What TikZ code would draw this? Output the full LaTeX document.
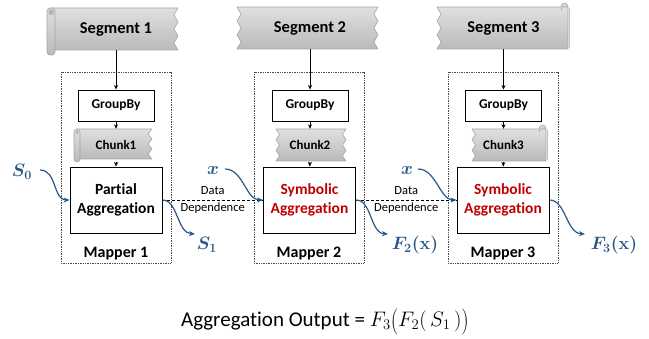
\RequirePackage{fix-cm}
\documentclass[tikz,border=0pt]{standalone}
\usepackage{graphicx}
\usepackage{fontspec}
\setmainfont{Carlito}[Ligatures={CommonOff,ContextualOff}]
\usetikzlibrary{arrows.meta}
\definecolor{lblue}{HTML}{2A5788}
\definecolor{dred}{HTML}{C00000}
\definecolor{bnTop}{RGB}{224,224,224}
\definecolor{bnBot}{RGB}{186,186,186}
\definecolor{bnLine}{RGB}{165,165,165}
\newcommand{\bigparL}{\mathopen{\raisebox{-0.12em}{\scalebox{1}[1.25]{$($}}}}
\newcommand{\bigparR}{\mathclose{\raisebox{-0.12em}{\scalebox{1}[1.25]{$)$}}}}
\tikzset{
  banner/.style={top color=bnTop, bottom color=bnBot, draw=bnLine, line width=0.6pt, line join=round},
  mapframe/.style={draw=black!70, densely dotted, line width=0.7pt, minimum width=110pt, minimum height=191pt, inner sep=0pt},
  gbox/.style={draw, line width=0.9pt, minimum width=76pt, minimum height=31pt, inner sep=0pt, font=\fontsize{13.5}{15}\selectfont\bfseries},
  abox/.style={draw, line width=0.9pt, minimum width=92pt, minimum height=66pt, inner sep=0pt, align=center, font=\fontsize{15.5}{18.5}\selectfont\bfseries},
  seglabel/.style={inner sep=0pt, minimum height=42pt, font=\fontsize{16.5}{18}\selectfont\bfseries},
  chlabel/.style={inner sep=0pt, minimum height=33pt, font=\fontsize{13}{15}\selectfont\bfseries},
  maplabel/.style={inner sep=0pt, font=\fontsize{16}{18}\selectfont\bfseries},
  ddlabel/.style={inner sep=0pt, align=center, font=\fontsize{12.5}{17}\selectfont},
  mlabel/.style={inner sep=0pt, text=lblue, font=\fontsize{18}{20}\selectfont\boldmath},
  arr/.style={-{Stealth[length=4.5pt,width=4pt]}, line width=0.9pt},
  barr/.style={-{Stealth[length=6pt,width=5pt]}, draw=lblue, line width=1.2pt},
  ddline/.style={dash pattern=on 3pt off 2pt, line width=0.7pt},
}
% both sides zigzag: xl, yt, xr, yb, depth
\newcommand{\zzBanner}[5]{%
  \pgfmathsetmacro\bh{(#4-#2)/6}
  \path[banner] (#1,#2) -- (#3,#2) -- ({#3-#5},{#2+\bh}) -- (#3,{#2+2*\bh}) -- ({#3-#5},{#2+3*\bh}) -- (#3,{#2+4*\bh}) -- ({#3-#5},{#2+5*\bh}) -- (#3,#4)
    -- (#1,#4) -- ({#1+#5},{#2+5*\bh}) -- (#1,{#2+4*\bh}) -- ({#1+#5},{#2+3*\bh}) -- (#1,{#2+2*\bh}) -- ({#1+#5},{#2+\bh}) -- cycle;}
% left scroll, right zigzag: xl, yt, xr, yb, depth, tube width, tube bottom
\newcommand{\slBanner}[7]{%
  \pgfmathsetmacro\bh{(#4-#2)/6}
  \path[banner] ({#1+#6/2},#2) -- (#3,#2) -- ({#3-#5},{#2+\bh}) -- (#3,{#2+2*\bh}) -- ({#3-#5},{#2+3*\bh}) -- (#3,{#2+4*\bh}) -- ({#3-#5},{#2+5*\bh}) -- (#3,#4)
    -- ({#1+#6/2},#4) -- cycle;
  \path[banner, rounded corners=3pt] (#1,#2) rectangle ({#1+#6},#7);
  \path[fill=bnLine!80, rounded corners=1pt] ({#1+1.5},{#2+1.5}) rectangle ({#1+#6-1.5},{#2+#6-1});}
% left zigzag, right scroll: xl, yt, xr, yb, depth
\newcommand{\srBanner}[5]{%
  \pgfmathsetmacro\bh{(#4-#2)/6}
  \path[banner] ({#3-3.5},{#2-0.5}) circle (3.5pt);
  \path[banner] (#1,#2) -- (#3,#2) -- (#3,#4)
    -- (#1,#4) -- ({#1+#5},{#2+5*\bh}) -- (#1,{#2+4*\bh}) -- ({#1+#5},{#2+3*\bh}) -- (#1,{#2+2*\bh}) -- ({#1+#5},{#2+\bh}) -- cycle;
  \draw[bnLine, line width=0.6pt] ({#3-7},{#2+1}) -- ({#3-7},{#2+3});
  \draw[bnLine!70, line width=1pt] ({#3+1},{#2+1}) -- ({#3+1},{#4-1});}
\begin{document}
\begin{tikzpicture}[x=1pt,y=-1pt]
\useasboundingbox (0,0) rectangle (649,339);
% banners (segments)
\slBanner{47}{8}{178}{50}{4}{8}{55}
\zzBanner{237}{7}{378}{49}{4}
\srBanner{437}{7}{568}{49}{4}
% chunks
\slBanner{74}{129}{152}{159}{4}{6}{162}
\zzBanner{276}{129}{346}{161}{3.5}
\srBanner{472}{129}{546}{161}{3.5}
% mapper frames
\node[mapframe] (m1) at (116,167.5) {};
\node[mapframe] (m2) at (309,167.5) {};
\node[mapframe] (m3) at (503,167.5) {};
% segment labels
\node[seglabel] (seg1) at (116,29) {Segment 1};
\node[seglabel] (seg2) at (310,28) {Segment 2};
\node[seglabel] (seg3) at (503.5,28) {Segment 3};
% groupby
\node[gbox] (gb1) at (116,105.5) {GroupBy};
\node[gbox] (gb2) at (310,105.5) {GroupBy};
\node[gbox] (gb3) at (503.5,105.5) {GroupBy};
% chunk labels
\node[chlabel] (ch1) at (116,145.5) {\raisebox{1.5pt}{Chunk1}};
\node[chlabel] (ch2) at (310,145.5) {\raisebox{1.5pt}{Chunk2}};
\node[chlabel] (ch3) at (503.5,145.5) {\raisebox{1.5pt}{Chunk3}};
% aggregation boxes
\node[abox] (agg1) at (116,200) {Partial\\Aggregation};
\node[abox, text=dred] (agg2) at (309.5,200) {Symbolic\\Aggregation};
\node[abox, text=dred] (agg3) at (503,200) {Symbolic\\Aggregation};
% mapper labels
\node[maplabel] (ml1) at (116,254) {Mapper 1};
\node[maplabel] (ml2) at (309,254) {Mapper 2};
\node[maplabel] (ml3) at (503,254) {Mapper 3};
% vertical arrows
\foreach \i in {1,2,3}{
  \draw[arr] (seg\i) -- (gb\i);
  \draw[arr] (gb\i) -- (ch\i);
  \draw[arr] (ch\i) -- (agg\i);
}
% data dependence
\draw[ddline] (agg1.east) -- (agg2.west) node[ddlabel, midway] (dd1) {Data\\Dependence};
\draw[ddline] (agg2.east) -- (agg3.west) node[ddlabel, midway] (dd2) {Data\\Dependence};
% math labels
\node[mlabel] (s0) at (22,172) {$S_0$};
\node[mlabel] (x2) at (213,171) {$x$};
\node[mlabel] (x3) at (407,171) {$x$};
\node[mlabel] (s1) at (207,245) {$S_1$};
\node[mlabel] (f2) at (415,245) {$F_2(\mathbf{x})$};
\node[mlabel] (f3) at (614,245) {$F_3(\mathbf{x})$};
\coordinate (s0o) at (40,170);
\coordinate (x2o) at (225,169);
\coordinate (x3o) at (418,169);
\coordinate (s1i) at (195,234);
\coordinate (f2i) at (388,234);
\coordinate (f3i) at (585,234);
% blue curves
\draw[barr] (s0o) .. controls (57,170) and (53,200) .. (agg1.west);
\draw[barr] (x2o) .. controls (243,169) and (246,200) .. (agg2.west);
\draw[barr] (x3o) .. controls (436,169) and (440,200) .. (agg3.west);
\draw[barr] (agg1.east) .. controls (178,200) and (177,233) .. (s1i);
\draw[barr] (agg2.east) .. controls (372,200) and (370,233) .. (f2i);
\draw[barr] (agg3.east) .. controls (566,200) and (566,233) .. (f3i);
% output
\node[inner sep=0pt, font=\fontsize{21}{24}\selectfont] (out) at (325,322) {Aggregation Output = $F_3\bigparL F_2(\,S_1\,)\bigparR$};
\end{tikzpicture}
\end{document}
